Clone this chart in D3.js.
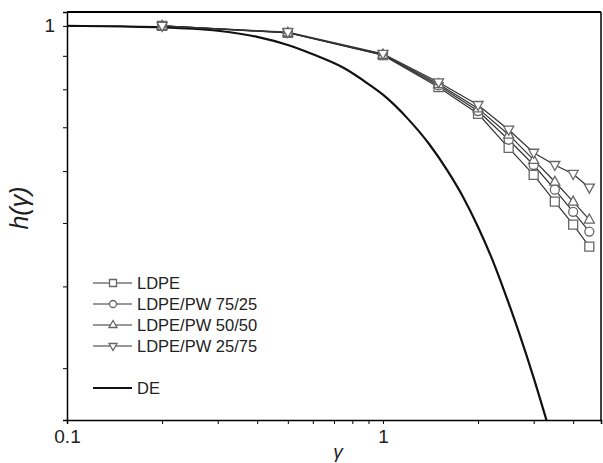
<!DOCTYPE html>
<html>
<head>
<meta charset="utf-8">
<script src="https://cdn.jsdelivr.net/npm/d3@7"></script>
<style>
  body { margin: 0; background: #fff; }
  text { font-family: "Liberation Sans", Arial, sans-serif; }
</style>
</head>
<body>
<div id="viz"></div>
<script>
// data
var shear = [0.2, 0.5, 1, 1.5, 2, 2.5, 3, 3.5, 4, 4.5]
var hLDPE  = [1.0, 0.976, 0.902, 0.806, 0.734, 0.651, 0.592, 0.539, 0.497, 0.460]
var h7525  = [1.0, 0.976, 0.903, 0.811, 0.741, 0.670, 0.613, 0.562, 0.520, 0.485]
var h5050  = [1.0, 0.977, 0.904, 0.815, 0.748, 0.682, 0.624, 0.578, 0.539, 0.506]
var h2575  = [1.0, 0.978, 0.906, 0.820, 0.757, 0.694, 0.640, 0.613, 0.594, 0.566]
var deX = [0.1, 0.15, 0.2, 0.25, 0.3, 0.4, 0.5, 0.6, 0.75, 0.9, 1.0, 1.2, 1.4, 1.6, 1.8, 2.0, 2.2, 2.4, 2.7, 3.0, 3.3]
var deY = [1.0, 0.998, 0.995, 0.99, 0.983, 0.962, 0.935, 0.905, 0.863, 0.815, 0.785, 0.721, 0.660, 0.601, 0.546, 0.493, 0.444, 0.398, 0.339, 0.290, 0.249]
var seriesNames = ["LDPE", "LDPE/PW 75/25", "LDPE/PW 50/50", "LDPE/PW 25/75"]
var seriesSymbols = ["square", "circle", "up", "down"]

var w = 603
var h = 463
var m = {top: 12, right: 2, bottom: 43, left: 67}

var svg = d3.select("#viz").append("svg")
  .attr("width", w)
  .attr("height", h)

var x = d3.scaleLog().domain([0.1, 4.9]).range([m.left, w - m.right])
var y = d3.scaleLog().domain([0.25, 1.05]).range([h - m.bottom, m.top])

// axes with minor ticks only labelled at decades
var xTicks = [0.1, 0.2, 0.3, 0.4, 0.5, 0.6, 0.7, 0.8, 0.9, 1, 2, 3, 4]
svg.append("g")
  .attr("transform", "translate(0," + (h - m.bottom) + ")")
  .call(d3.axisBottom(x).tickValues(xTicks).tickSize(4).tickPadding(6)
    .tickFormat(d => (d === 0.1 ? "0.1" : d === 1 ? "1" : "")))
  .call(g => g.select(".domain").attr("stroke-width", 1.5))
  .call(g => g.selectAll("text").attr("font-size", 19).attr("fill", "#222"))

var yTicks = [0.3, 0.4, 0.5, 0.6, 0.7, 0.8, 0.9, 1]
svg.append("g")
  .attr("transform", "translate(" + m.left + ",0)")
  .call(d3.axisLeft(y).tickValues(yTicks).tickSize(4).tickPadding(8)
    .tickFormat(d => (d === 1 ? "1" : "")))
  .call(g => g.select(".domain").attr("stroke-width", 1.5))
  .call(g => g.selectAll("text").attr("font-size", 19).attr("fill", "#222"))

// frame top and right
svg.append("line").attr("x1", m.left).attr("x2", w - m.right).attr("y1", m.top).attr("y2", m.top)
  .attr("stroke", "#000").attr("stroke-width", 2)
svg.append("line").attr("x1", w - m.right).attr("x2", w - m.right).attr("y1", m.top).attr("y2", h - m.bottom)
  .attr("stroke", "#000").attr("stroke-width", 1.5)

svg.append("defs").append("clipPath").attr("id", "clip")
  .append("rect").attr("x", m.left).attr("y", m.top)
  .attr("width", w - m.left - m.right).attr("height", h - m.top - m.bottom)

// DE curve
var line = d3.line().x(d => x(d[0])).y(d => y(d[1]))
var smooth = d3.line().x(d => x(d[0])).y(d => y(d[1])).curve(d3.curveMonotoneX)
svg.append("path")
  .attr("clip-path", "url(#clip)")
  .attr("d", smooth(d3.zip(deX, deY)))
  .attr("fill", "none").attr("stroke", "#111").attr("stroke-width", 2.2)

// marker drawing
function symbolPath(kind, cx, cy, s) {
  if (kind === "square") return "M" + (cx - s) + "," + (cy - s) + "h" + 2 * s + "v" + 2 * s + "h" + (-2 * s) + "Z"
  if (kind === "up") return "M" + cx + "," + (cy - s - 1) + "L" + (cx + s + 0.5) + "," + (cy + s - 1) + "L" + (cx - s - 0.5) + "," + (cy + s - 1) + "Z"
  if (kind === "down") return "M" + cx + "," + (cy + s + 1) + "L" + (cx + s + 0.5) + "," + (cy - s + 1) + "L" + (cx - s - 0.5) + "," + (cy - s + 1) + "Z"
  return null
}
function drawMarker(g, kind, cx, cy, s) {
  if (kind === "circle") {
    g.append("circle").attr("cx", cx).attr("cy", cy).attr("r", s)
      .attr("fill", "#fff").attr("stroke", "#666").attr("stroke-width", 1.3)
  } else {
    g.append("path").attr("d", symbolPath(kind, cx, cy, s))
      .attr("fill", "#fff").attr("stroke", "#666").attr("stroke-width", 1.3)
  }
}

var allSeries = [hLDPE, h7525, h5050, h2575]
allSeries.forEach(function (vals) {
  svg.append("path")
    .attr("d", line(d3.zip(shear, vals)))
    .attr("fill", "none").attr("stroke", "#333").attr("stroke-width", 1.2)
})
allSeries.forEach(function (vals, i) {
  var g = svg.append("g")
  shear.forEach(function (s, j) { drawMarker(g, seriesSymbols[i], x(s), y(vals[j]), 4.5) })
})

// legend
var lg = svg.append("g")
var rowY = [283, 304, 325, 346]
seriesNames.forEach(function (name, i) {
  lg.append("line").attr("x1", 93).attr("x2", 132).attr("y1", rowY[i]).attr("y2", rowY[i])
    .attr("stroke", "#333").attr("stroke-width", 1.2)
  drawMarker(lg, seriesSymbols[i], 113, rowY[i], 3.5)
  lg.append("text").attr("x", 137).attr("y", rowY[i] + 6)
    .attr("font-size", 16.5).attr("fill", "#222").text(name)
})
lg.append("line").attr("x1", 93).attr("x2", 132).attr("y1", 388).attr("y2", 388)
  .attr("stroke", "#111").attr("stroke-width", 2.2)
lg.append("text").attr("x", 137).attr("y", 394)
  .attr("font-size", 16.5).attr("fill", "#222").text("DE")

// axis titles
svg.append("text")
  .attr("x", 338).attr("y", 458)
  .attr("text-anchor", "middle")
  .attr("font-size", 19).attr("font-style", "italic").attr("fill", "#222")
  .text("γ")
svg.append("text")
  .attr("transform", "translate(28,208) rotate(-90)")
  .attr("text-anchor", "middle")
  .attr("font-size", 25).attr("font-style", "italic").attr("fill", "#222")
  .text("h(γ)")
</script>
</body>
</html>
